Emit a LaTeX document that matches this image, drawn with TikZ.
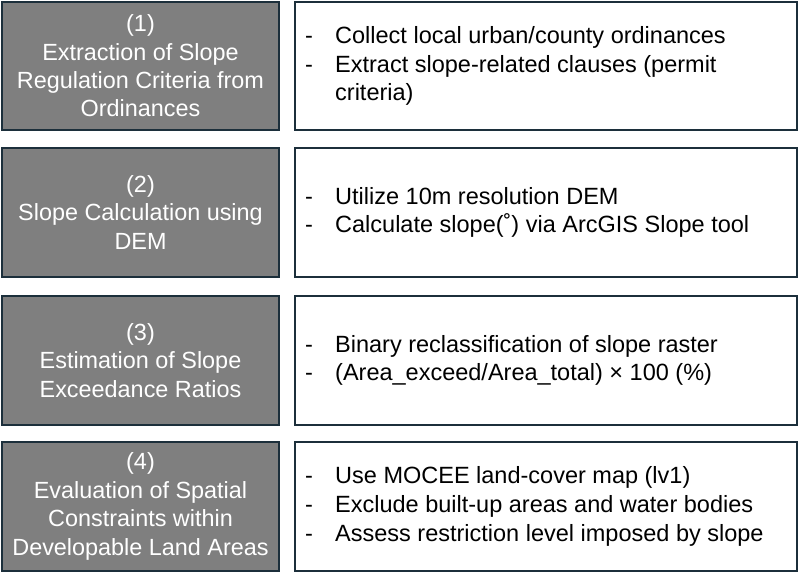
\documentclass[tikz,border=0pt]{standalone}
\usepackage{fontspec}
\setmainfont{Liberation Sans}
\definecolor{edge}{HTML}{1C2F3B}
\definecolor{stepgray}{HTML}{7F7F7F}
\newcommand\itm[1]{\makebox[30pt][l]{-}#1}
\newcommand\cont[1]{\makebox[30pt][l]{}#1}
\begin{document}
\begin{tikzpicture}[x=1pt,y=-1pt,
  leftbox/.style={draw=edge,line width=2.4pt,fill=stepgray},
  rightbox/.style={draw=edge,line width=2.4pt,fill=white},
  lefttext/.style={text=white,align=center,inner sep=0pt,font=\fontsize{23.4}{28.4}\selectfont},
  righttext/.style={text=black,align=left,inner sep=0pt,anchor=west,font=\fontsize{23.5}{28.8}\selectfont}]
\useasboundingbox[fill=white] (0,0) rectangle (800,573);
% row 1
\draw[leftbox] (2,2) rectangle (279,130);
\draw[rightbox] (295,2) rectangle (797,130);
\node[lefttext] (l1) at (140.5,66) {(1)\\Extraction of Slope\\Regulation Criteria from\\Ordinances};
\node[righttext] (r1) at (305,66) {\itm{Collect local urban/county ordinances}\\\itm{Extract slope-related clauses (permit}\\\cont{criteria)}};
% row 2
\draw[leftbox] (2,148) rectangle (279,277);
\draw[rightbox] (295,148) rectangle (797,277);
\node[lefttext] (l2) at (140.5,212.5) {(2)\\Slope Calculation using\\DEM};
\node[righttext] (r2) at (305,212.5) {\itm{Utilize 10m resolution DEM}\\\itm{Calculate slope(˚) via ArcGIS Slope tool}};
% row 3
\draw[leftbox] (2,296) rectangle (279,425);
\draw[rightbox] (295,296) rectangle (797,425);
\node[lefttext] (l3) at (140.5,360.5) {(3)\\Estimation of Slope\\Exceedance Ratios};
\node[righttext] (r3) at (305,360.5) {\itm{Binary reclassification of slope raster}\\\itm{(Area\_exceed/Area\_total) × 100 (\%)}};
% row 4
\draw[leftbox] (2,442) rectangle (279,571);
\draw[rightbox] (295,442) rectangle (797,571);
\node[lefttext] (l4) at (140.5,506.5) {(4)\\Evaluation of Spatial\\Constraints within\\Developable Land Areas};
\node[righttext] (r4) at (305,506.5) {\itm{Use MOCEE land-cover map (lv1)}\\\itm{Exclude built-up areas and water bodies}\\\itm{Assess restriction level imposed by slope}};
\end{tikzpicture}
\end{document}
